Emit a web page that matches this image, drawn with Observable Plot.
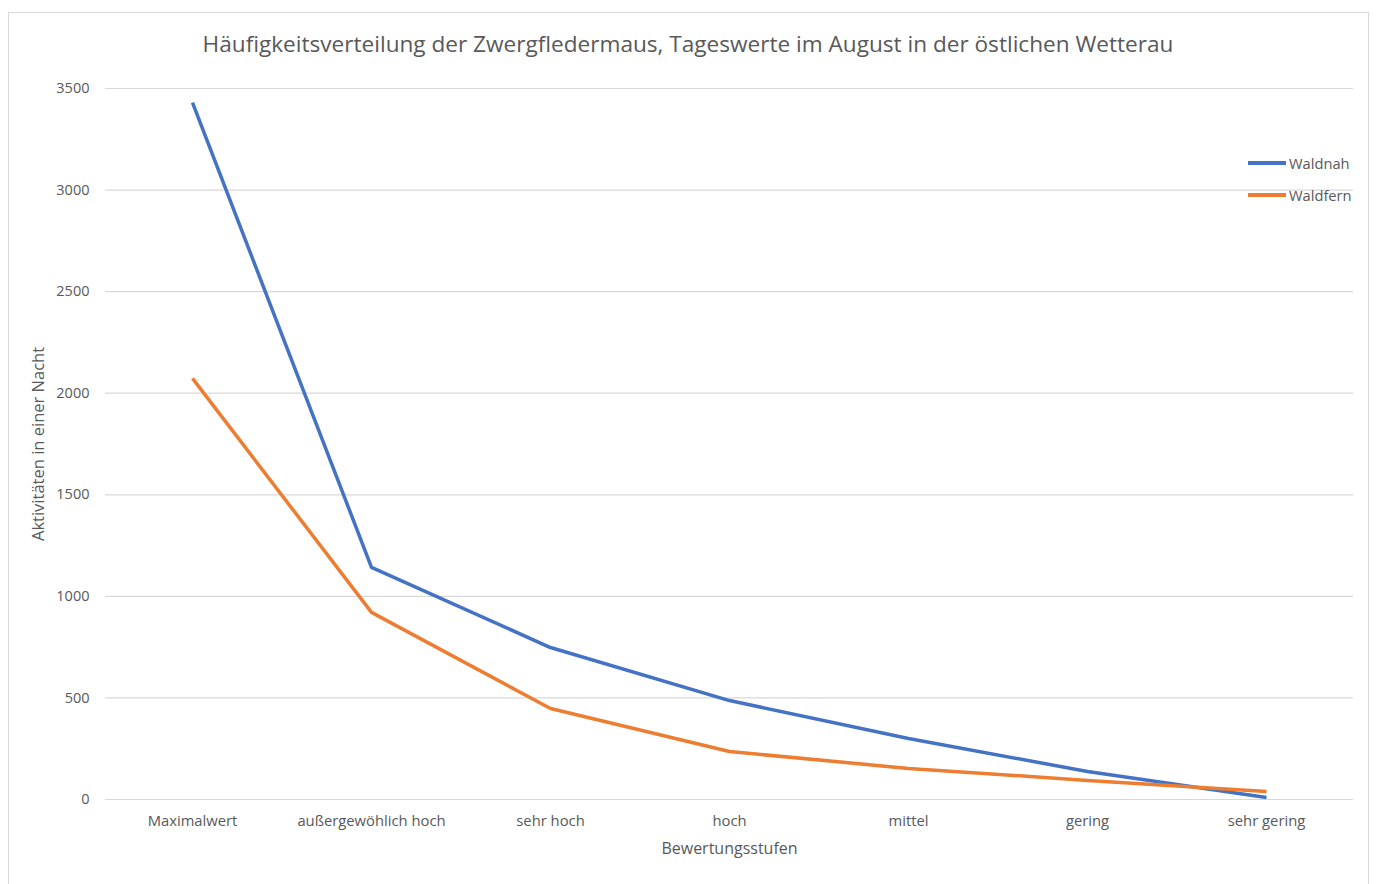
<!DOCTYPE html>
<html><head><meta charset="utf-8">
<script src="https://cdn.jsdelivr.net/npm/d3@7"></script>
<script src="https://cdn.jsdelivr.net/npm/@observablehq/plot@0.6"></script>
<style>
html,body{margin:0;padding:0;background:#fff;}
#wrap{position:relative;width:1376px;height:884px;overflow:hidden;font-family:"Open Sans",sans-serif;}
#frame{position:absolute;left:8px;top:12px;width:1361px;height:880px;border:1px solid #d9d9d9;box-sizing:border-box;}
#title{position:absolute;left:0;top:28px;width:1376px;text-align:center;font-size:22.6px;color:#595959;}
#chart{position:absolute;left:0;top:0;}
.leg{position:absolute;left:1248px;font-size:14.7px;color:#595959;display:flex;align-items:center;}
.leg span.sw{display:inline-block;width:38px;height:3.5px;margin-right:3px;}
</style></head>
<body>
<div id="wrap">
<div id="frame"></div>
<div id="chart"></div>
<div id="title">Häufigkeitsverteilung der Zwergfledermaus, Tageswerte im August in der östlichen Wetterau</div>
<div class="leg" style="top:153px"><span class="sw" style="background:#4472C4"></span>Waldnah</div>
<div class="leg" style="top:185px"><span class="sw" style="background:#ED7D31"></span>Waldfern</div>
</div>
<script>
const categories = ["Maximalwert","außergewöhlich hoch","sehr hoch","hoch","mittel","gering","sehr gering"];
const waldnah = [3430, 1143, 748, 487, 300, 138, 10];
const waldfern = [2073, 921, 448, 236, 153, 94, 39];
const yTicks = [0, 500, 1000, 1500, 2000, 2500, 3000, 3500];
const seriesNames = ["Waldnah", "Waldfern"];
const colors = ["#4472C4", "#ED7D31"];

const rows = [];
categories.forEach((c, i) => {
  rows.push({cat: c, value: waldnah[i], series: seriesNames[0]});
  rows.push({cat: c, value: waldfern[i], series: seriesNames[1]});
});

const chart = Plot.plot({
  width: 1376,
  height: 884,
  marginLeft: 105,
  marginRight: 23,
  marginTop: 88,
  marginBottom: 85,
  style: {fontFamily: "'Open Sans', sans-serif", fontSize: "14px", color: "#595959", background: "transparent"},
  x: {type: "point", domain: categories, padding: 0.48},
  y: {domain: [0, 3500]},
  color: {domain: seriesNames, range: colors},
  marks: [
    Plot.gridY(yTicks, {stroke: "#d9d9d9", strokeOpacity: 1, strokeWidth: 1.2}),
    Plot.axisY(yTicks, {tickSize: 0, tickPadding: 16, label: null, tickFormat: d => String(d), fill: "#595959", fontSize: 14.5}),
    Plot.axisX({tickSize: 0, tickPadding: 16, label: null, fill: "#595959", fontSize: 14.8}),
    Plot.lineY(rows, {x: "cat", y: "value", z: "series", stroke: "series", strokeWidth: 3.5, strokeLinejoin: "round", strokeLinecap: "butt"}),
    Plot.text(["Aktivitäten in einer Nacht"], {frameAnchor: "left", dx: -67, rotate: -90, textAnchor: "middle", fill: "#595959", fontSize: 16.5}),
    Plot.text(["Bewertungsstufen"], {frameAnchor: "bottom", dy: 54, fill: "#595959", fontSize: 16})
  ]
});
document.getElementById("chart").appendChild(chart);
</script>
</body></html>
